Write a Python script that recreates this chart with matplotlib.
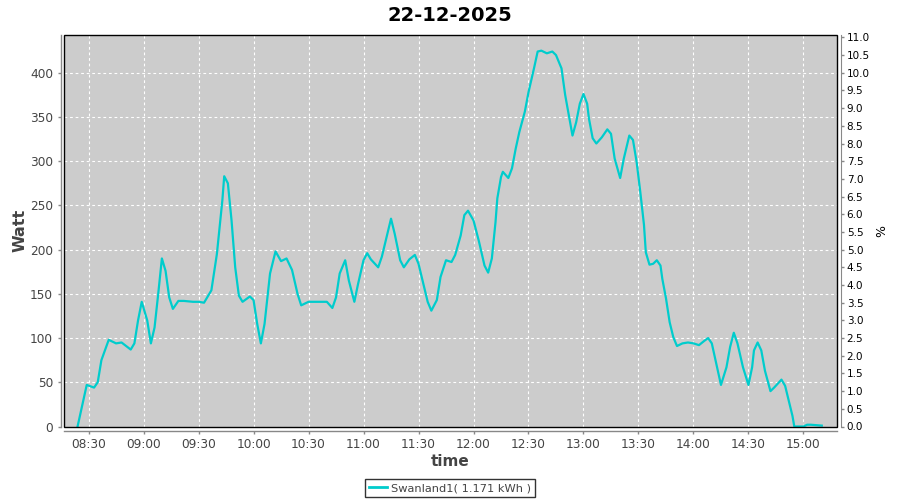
import pandas as pd
import matplotlib
matplotlib.use('Agg')
import matplotlib.pyplot as plt
import matplotlib.dates as mdates
from matplotlib.patches import Rectangle

day = '2025-12-22'
title = '22-12-2025'
series_name = 'Swanland1( 1.171 kWh )'

times = [
    '08:24', '08:29', '08:33', '08:35', '08:37', '08:41', '08:45', '08:48',
    '08:53', '08:55', '08:57', '08:59', '09:02', '09:04', '09:06', '09:08',
    '09:10', '09:12', '09:14', '09:16', '09:19', '09:22', '09:27', '09:30',
    '09:33', '09:37', '09:40', '09:43', '09:44', '09:46', '09:48', '09:50',
    '09:52', '09:54', '09:58', '10:00', '10:02', '10:04', '10:06', '10:09',
    '10:12', '10:15', '10:18', '10:21', '10:24', '10:26', '10:30', '10:36',
    '10:40', '10:43', '10:45', '10:47', '10:50', '10:52', '10:55', '10:57',
    '11:00', '11:02', '11:04', '11:08', '11:10', '11:13', '11:15', '11:17',
    '11:20', '11:22', '11:25', '11:28', '11:30', '11:33', '11:35', '11:37',
    '11:40', '11:42', '11:45', '11:48', '11:50', '11:53', '11:55', '11:57',
    '12:00', '12:03', '12:06', '12:08', '12:10', '12:12', '12:13', '12:15',
    '12:16', '12:19', '12:21', '12:23', '12:25', '12:28', '12:30', '12:33',
    '12:35', '12:37', '12:40', '12:43', '12:45', '12:48', '12:50', '12:52',
    '12:54', '12:56', '12:58', '13:00', '13:02', '13:03', '13:05', '13:07',
    '13:10', '13:13', '13:15', '13:17', '13:20', '13:22', '13:25', '13:27',
    '13:29', '13:31', '13:33', '13:34', '13:36', '13:38', '13:40', '13:42',
    '13:43', '13:45', '13:47', '13:49', '13:51', '13:54', '13:57', '14:00',
    '14:03', '14:06', '14:08', '14:10', '14:12', '14:14', '14:15', '14:18',
    '14:20', '14:22', '14:24', '14:27', '14:30', '14:32', '14:33', '14:35',
    '14:37', '14:39', '14:42', '14:44', '14:48', '14:50', '14:52', '14:54',
    '14:55', '15:00', '15:02', '15:04', '15:10',
]
watt = [
    0, 47, 44, 50, 75, 98, 94, 95,
    87, 94, 120, 141, 120, 94, 112, 150,
    190, 176, 146, 133, 142, 142, 141, 141,
    140, 154, 195, 256, 283, 275, 233, 180,
    148, 141, 147, 143, 116, 94, 116, 173,
    198, 187, 190, 177, 150, 137, 141, 141,
    141, 134, 146, 173, 188, 165, 141, 161,
    188, 196, 189, 180, 192, 218, 235, 218,
    188, 180, 189, 194, 184, 158, 141, 131,
    143, 169, 188, 186, 194, 216, 239, 244,
    233, 209, 182, 174, 190, 231, 258, 282,
    288, 281, 292, 314, 333, 356, 378, 405,
    424, 425, 422, 424, 420, 405, 375, 352,
    329, 344, 365, 376, 365, 348, 326, 320,
    327, 336, 331, 303, 281, 303, 329, 324,
    299, 265, 228, 197, 183, 184, 188, 182,
    167, 145, 118, 101, 91, 94, 95, 94,
    92, 97, 100, 94, 75, 56, 47, 67,
    90, 106, 94, 67, 47, 67, 86, 95,
    86, 63, 40, 44, 53, 46, 29, 12,
    0, 0, 2, 2, 1,
]
x_ticks = ['08:30', '09:00', '09:30', '10:00', '10:30', '11:00', '11:30',
           '12:00', '12:30', '13:00', '13:30', '14:00', '14:30', '15:00']

t = pd.to_datetime([day + ' ' + s for s in times])
ticks = pd.to_datetime([day + ' ' + s for s in x_ticks])

line_color = '#00cccc'
text_color = '#444444'
axis_gray = '#888888'

fig = plt.figure(figsize=(9, 5), dpi=100)
ax = fig.add_axes([64 / 900, 73.5 / 500, 773 / 900, 391.5 / 500])
ax.set_facecolor('#cccccc')

ax.plot(t, watt, color=line_color, lw=1.6, zorder=3, solid_joinstyle='round')

ax.set_xlim(pd.Timestamp(day + ' 08:16:36'), pd.Timestamp(day + ' 15:18:18'))
ax.set_ylim(0, 442.7)
ax.set_xticks(ticks)
ax.xaxis.set_major_formatter(mdates.DateFormatter('%H:%M'))
ax.set_yticks(range(0, 401, 50))

ax.grid(True, color='white', lw=0.8, ls=(0, (2.5, 2.5)), zorder=1)
ax.set_axisbelow(True)

for side in ['top', 'right']:
    ax.spines[side].set_visible(False)
ax.spines['left'].set_position(('outward', 2.5))
ax.spines['bottom'].set_position(('outward', 3))
for side in ['left', 'bottom']:
    ax.spines[side].set_color(axis_gray)
    ax.spines[side].set_linewidth(1)
ax.tick_params(axis='both', colors=axis_gray, labelcolor=text_color,
               labelsize=8.7, length=2, width=1)

# black plot outline
ax.add_patch(Rectangle((0, 0), 1, 1, transform=ax.transAxes, fill=False,
                       edgecolor='black', lw=1, zorder=5, clip_on=False))

ax.set_ylabel('Watt', fontsize=11.5, fontweight='bold', color=text_color,
              labelpad=2)
ax.set_xlabel('time', fontsize=11, fontweight='bold', color=text_color,
              labelpad=2)

# right axis in percent (400 W -> 10 %)
ax2 = ax.twinx()
ax2.set_ylim(0, 442.7 / 40)
ax2.set_yticks([i * 0.5 for i in range(23)])
ax2.set_yticklabels(['%.1f' % (i * 0.5) for i in range(23)])
for side in ['top', 'left', 'bottom']:
    ax2.spines[side].set_visible(False)
ax2.spines['right'].set_position(('outward', 3))
ax2.spines['right'].set_color(axis_gray)
ax2.tick_params(axis='y', colors=axis_gray, labelcolor='black',
                labelsize=7.5, length=2, width=1, pad=2)
ax2.set_ylabel('%', fontsize=9, color='black', labelpad=4)

fig.suptitle(title, fontsize=14, fontweight='bold', y=0.988)

leg_line, = ax.plot([], [], color=line_color, lw=2, label=series_name)
leg = fig.legend(handles=[leg_line], loc='lower center',
                 bbox_to_anchor=(0.5, -0.006), frameon=True, fancybox=False,
                 fontsize=8.2, handlelength=1.6, handletextpad=0.3,
                 borderpad=0.35, labelcolor=text_color)
leg.get_frame().set_edgecolor('black')
leg.get_frame().set_linewidth(1)

fig.savefig('out.png', dpi=100)
